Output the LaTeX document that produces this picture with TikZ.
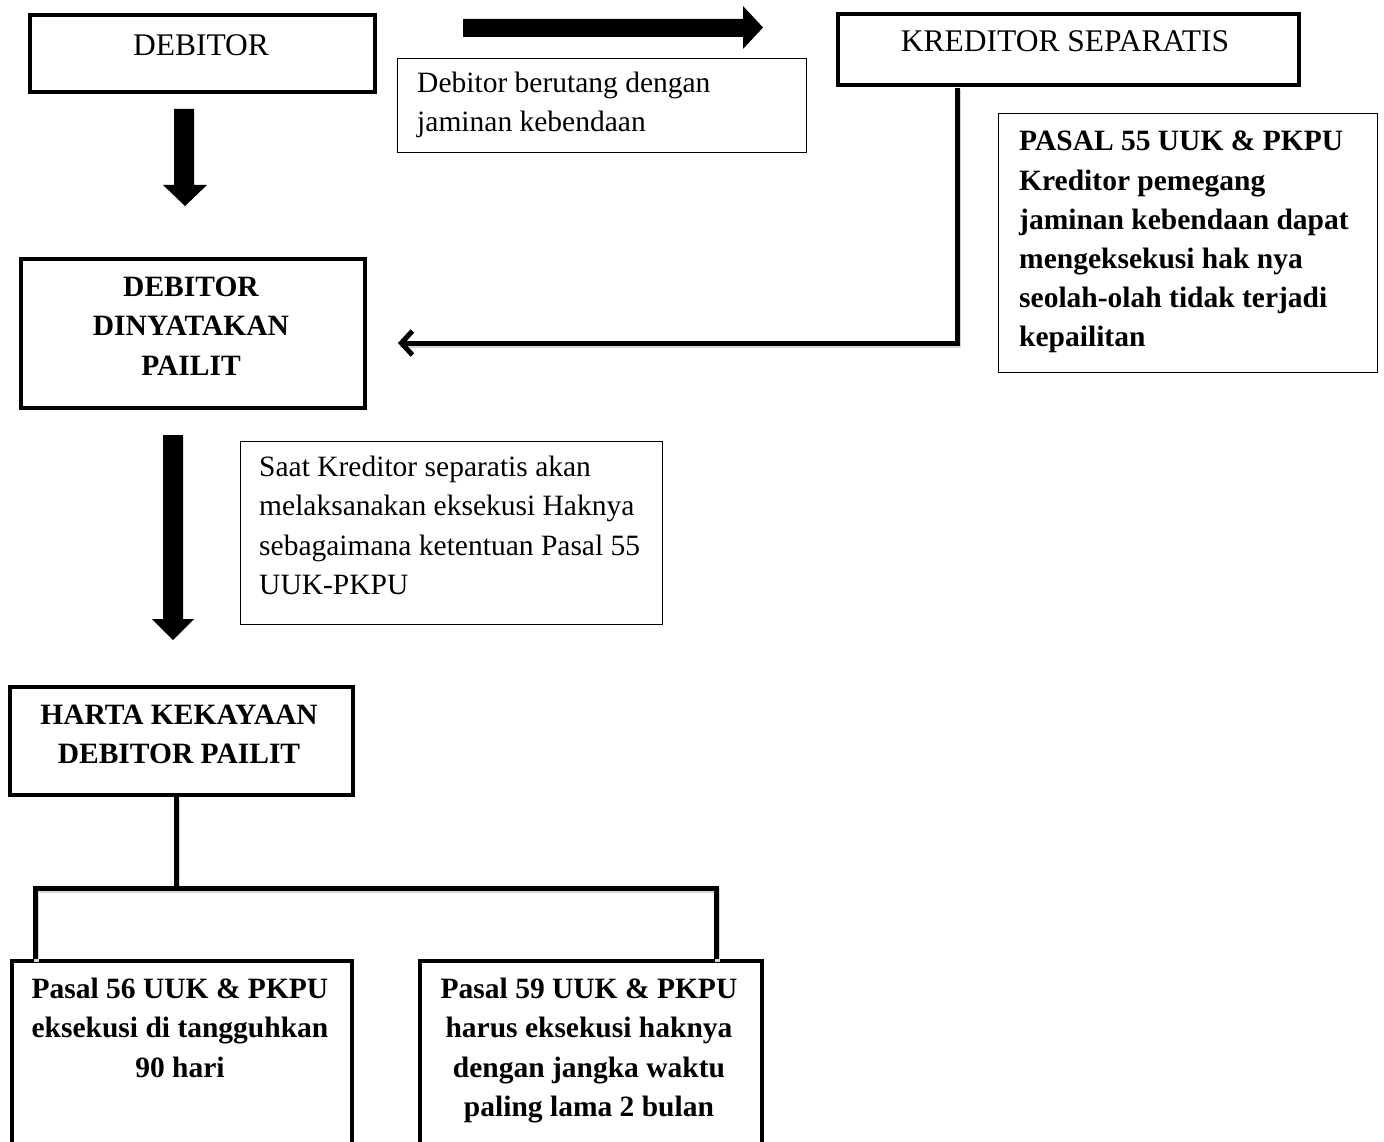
\documentclass[tikz,border=0pt]{standalone}
\usepackage{fontspec}
\setmainfont{Liberation Serif}
\usetikzlibrary{arrows.meta}
\begin{document}
\begin{tikzpicture}[x=1pt,y=-1pt,
  thickbox/.style={draw, line width=4pt, inner sep=0pt},
  thinbox/.style={draw, line width=1.1pt, inner sep=0pt},
  txt/.style={font=\fontsize{29.5}{39.2}\selectfont, inner sep=0pt},
  captxt/.style={font=\fontsize{31.5}{39.2}\selectfont, inner sep=0pt},
  btxt/.style={font=\fontsize{29.5}{39.2}\selectfont\bfseries, inner sep=0pt},
  conn/.style={line width=5pt},
  shade/.style={line width=5pt, draw=black!16, transform canvas={shift={(1.5pt,-2.5pt)}}},
  blockarrow/.style={fill=black}
]
\clip (0,0) rectangle (1384,1142);
\fill[white] (0,0) rectangle (1384,1142);

% boxes
\node[thickbox, minimum width=345, minimum height=77, anchor=north west] (deb) at (28,13) {};
\node[thickbox, minimum width=461, minimum height=71, anchor=north west] (kred) at (836,12) {};
\node[thinbox, minimum width=409, minimum height=94, anchor=north west] (hutang) at (397,58) {};
\node[thickbox, minimum width=344, minimum height=149, anchor=north west] (pailit) at (19,257) {};
\node[thinbox, minimum width=379, minimum height=259, anchor=north west] (p55) at (998,113) {};
\node[thinbox, minimum width=422, minimum height=183, anchor=north west] (saat) at (240,441) {};
\node[thickbox, minimum width=343, minimum height=108, anchor=north west] (harta) at (8,685) {};
\node[thickbox, minimum width=340, minimum height=260, anchor=north west] (p56) at (10,959) {};
\node[thickbox, minimum width=342, minimum height=260, anchor=north west] (p59) at (418,959) {};

% texts
\node[captxt] (tdeb) at (201,45) {DEBITOR};
\node[captxt] (tkred) at (1065,41) {KREDITOR SEPARATIS};
\node[txt, align=left, anchor=north west] (thutang) at (417,72) {Debitor berutang dengan\\jaminan kebendaan};
\node[btxt, align=center, anchor=north] (tpailit) at (191,277) {DEBITOR\\DINYATAKAN\\PAILIT};
\node[btxt, align=left, anchor=north west] (tp55) at (1019,131) {PASAL 55 UUK \& PKPU\\Kreditor pemegang\\jaminan kebendaan dapat\\mengeksekusi hak nya\\seolah-olah tidak terjadi\\kepailitan};
\node[txt, align=left, anchor=north west] (tsaat) at (259,456) {Saat Kreditor separatis akan\\melaksanakan eksekusi Haknya\\sebagaimana ketentuan Pasal 55\\UUK-PKPU};
\node[btxt, align=center, anchor=north] (tharta) at (179,705) {HARTA KEKAYAAN\\DEBITOR PAILIT};
\node[btxt, align=center, anchor=north] (tp56) at (180,978) {Pasal 56 UUK \& PKPU\\eksekusi di tangguhkan\\90 hari};
\node[btxt, align=center, anchor=north] (tp59) at (589,978) {Pasal 59 UUK \& PKPU\\harus eksekusi haknya\\dengan jangka waktu\\paling lama 2 bulan};

% block arrows
\fill[blockarrow] (463,19) -- (743,19) -- (743,6) -- (763,27.5) -- (743,49) -- (743,37) -- (463,37) -- cycle;
\fill[blockarrow] (174,109) -- (194,109) -- (194,185) -- (207,185) -- (185,206) -- (163,185) -- (174,185) -- cycle;
\fill[blockarrow] (163,435) -- (183,435) -- (183,619) -- (194,619) -- (173,640) -- (152,619) -- (163,619) -- cycle;

% elbow connector
\coordinate (ktap) at (957,88);
\coordinate (ptip) at (398,343);
\draw[shade] (ktap) |- (ptip);
\draw[conn, -{Straight Barb[length=11pt, width=24pt]}] (ktap) |- (ptip);

% tree
\coordinate (j) at (176,888);
\coordinate (bl) at (35,888);
\coordinate (br) at (716,888);
\draw[shade] (harta.south -| j) -- (j);
\draw[shade] (p56.north -| bl) -- (bl) -- (br) -- (p59.north -| br);
\draw[conn] (harta.south -| j) -- (j);
\draw[conn] (p56.north -| bl) -- (bl) -- (br) -- (p59.north -| br);
\end{tikzpicture}
\end{document}
